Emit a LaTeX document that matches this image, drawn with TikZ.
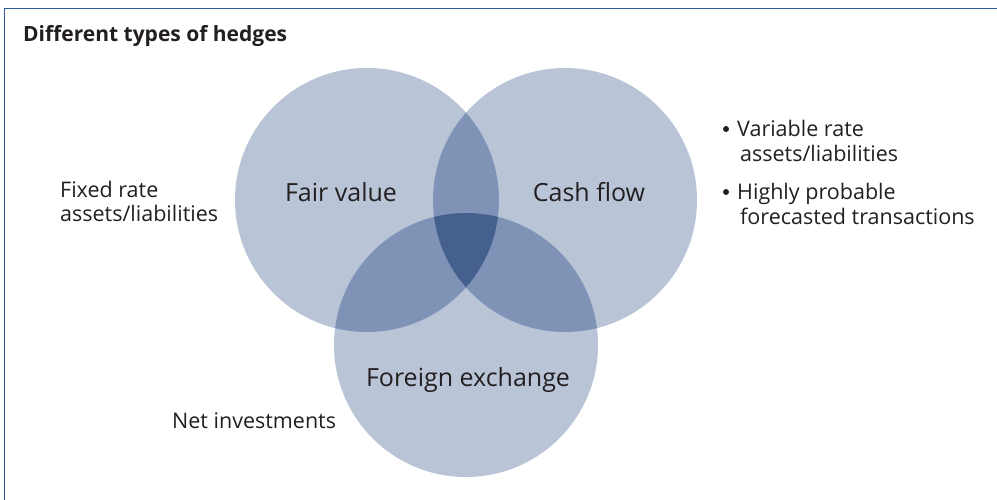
\documentclass[tikz,border=0pt]{standalone}
\usepackage{fontspec}
\setmainfont{Open Sans}
\definecolor{frame}{HTML}{2E5B9A}
\definecolor{c1}{HTML}{B9C4D7}
\definecolor{c2}{HTML}{7F93B7}
\definecolor{c3}{HTML}{45608F}
\definecolor{txt}{HTML}{231F20}
\begin{document}
\begin{tikzpicture}[x=1pt,y=-1pt,
  lbl/.style={text=txt,inner sep=0pt,anchor=base west,font=\fontsize{21.5}{26}\selectfont},
  dot/.style={fill=txt,circle,inner sep=0pt,minimum size=6pt},
  big/.style={text=txt,inner sep=0pt,anchor=base,font=\fontsize{25}{30}\selectfont}]
\useasboundingbox (0,0) rectangle (997,500);
\fill[white] (0,0) rectangle (997,500);
\draw[frame,line width=1.5pt] (4.5,500) -- (4.5,8.5) -- (997,8.5);
\def\rr{132}
\coordinate (A) at (367,200);
\coordinate (B) at (565,200);
\coordinate (C) at (466,345);
\fill[c1] (A) circle (\rr);
\fill[c1] (B) circle (\rr);
\fill[c1] (C) circle (\rr);
\begin{scope}\clip (A) circle (\rr); \fill[c2] (B) circle (\rr); \fill[c2] (C) circle (\rr);\end{scope}
\begin{scope}\clip (B) circle (\rr); \fill[c2] (C) circle (\rr);\end{scope}
\begin{scope}\clip (A) circle (\rr); \clip (B) circle (\rr); \fill[c3] (C) circle (\rr);\end{scope}
\node[anchor=base west,text=txt,inner sep=0pt,font=\bfseries\fontsize{21}{24}\selectfont] (title) at (23,42) {Different types of hedges};
\node[big] (fv) at (341,202) {Fair value};
\node[big] (cf) at (589,202) {Cash flow};
\node[big] (fx) at (468,386) {Foreign exchange};
\node[lbl] (fixed1) at (60,197) {Fixed rate};
\node[lbl] (fixed2) at (60,222) {assets/liabilities};
\node[lbl] (net) at (172,428) {Net investments};
\node[dot] (b1) at (726,129) {};
\node[lbl] (var1) at (737,137) {Variable rate};
\node[lbl] (var2) at (740,162) {assets/liabilities};
\node[dot] (b2) at (726,192) {};
\node[lbl] (high1) at (737,200) {Highly probable};
\node[lbl] (high2) at (740,225) {forecasted transactions};
\end{tikzpicture}
\end{document}
